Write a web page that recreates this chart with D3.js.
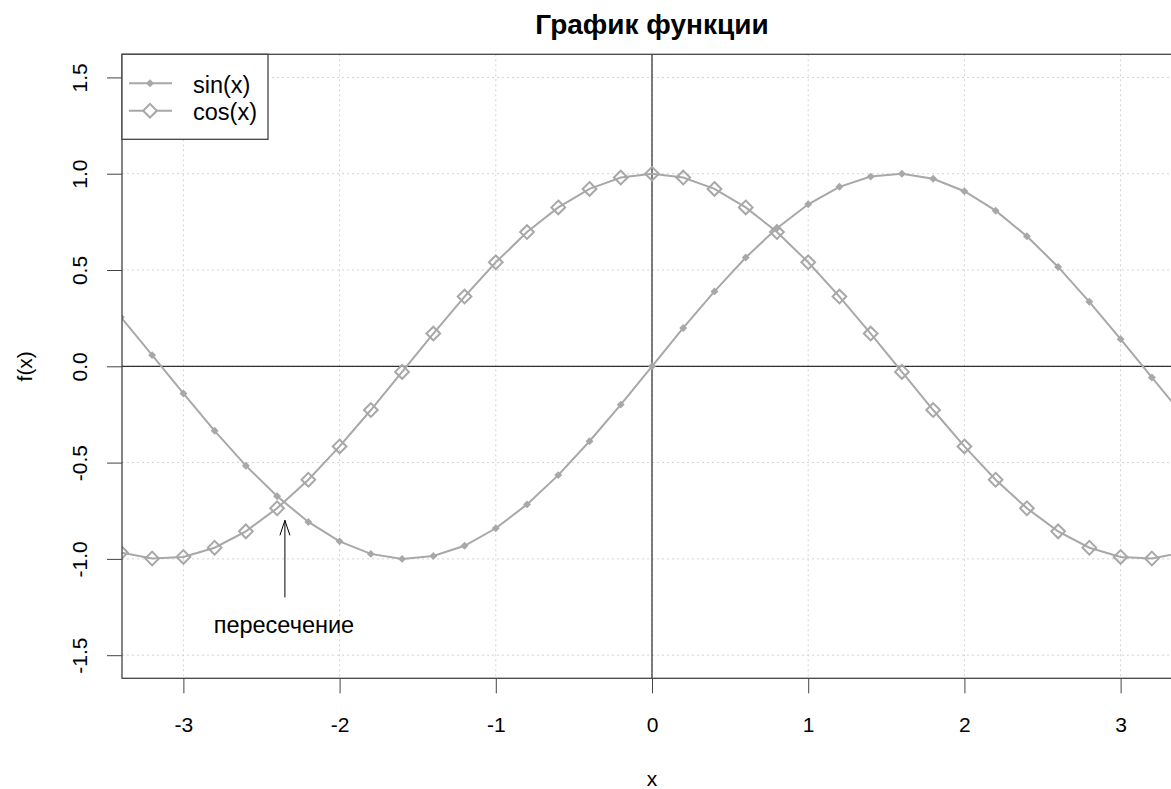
<!DOCTYPE html>
<html>
<head>
<meta charset="utf-8">
<script src="https://cdn.jsdelivr.net/npm/d3@7"></script>
<style>
  body { margin: 0; background: #fff; }
  svg { display: block; }
  svg text { font-family: "Liberation Sans", Arial, sans-serif; }
</style>
</head>
<body>
<script>
// x grid of the points, step 0.2
const xs = [-3.4,-3.2,-3.0,-2.8,-2.6,-2.4,-2.2,-2.0,-1.8,-1.6,-1.4,-1.2,-1.0,-0.8,-0.6,-0.4,-0.2,0,
            0.2,0.4,0.6,0.8,1.0,1.2,1.4,1.6,1.8,2.0,2.2,2.4,2.6,2.8,3.0,3.2,3.4];
const sinVals = [0.255,0.058,-0.141,-0.335,-0.516,-0.675,-0.808,-0.909,-0.974,-1.000,-0.985,-0.932,-0.841,-0.717,-0.565,-0.389,-0.199,0,
                 0.199,0.389,0.565,0.717,0.841,0.932,0.985,1.000,0.974,0.909,0.808,0.675,0.516,0.335,0.141,-0.058,-0.255];
const cosVals = [-0.967,-0.998,-0.990,-0.942,-0.857,-0.737,-0.589,-0.416,-0.227,-0.029,0.170,0.362,0.540,0.697,0.825,0.921,0.980,1.000,
                 0.980,0.921,0.825,0.697,0.540,0.362,0.170,-0.029,-0.227,-0.416,-0.589,-0.737,-0.857,-0.942,-0.990,-0.998,-0.967];
const xTicks = [-3,-2,-1,0,1,2,3];
const yTicks = [-1.5,-1.0,-0.5,0.0,0.5,1.0,1.5];
const legendLabels = ["sin(x)", "cos(x)"];
const note = {x: -2.35, yFrom: -1.2, yTo: -0.8, yText: -1.35, text: "пересечение"};

const w = 1171, h = 789;
const pLeft = 122, pRight = 1182, pTop = 54.3, pBottom = 678.3;
const col = "#a8a8a8";

const svg = d3.select("body").append("svg").attr("width", w).attr("height", h);

const x = d3.scaleLinear().domain([-3.393, 3.393]).range([pLeft, pRight]);
const y = d3.scaleLinear().domain([-1.62, 1.62]).range([pBottom, pTop]);

svg.append("defs").append("clipPath").attr("id", "clip")
  .append("rect").attr("x", pLeft).attr("y", pTop).attr("width", pRight - pLeft).attr("height", pBottom - pTop);

// grid
const grid = svg.append("g").attr("stroke", "#d3d3d3").attr("stroke-dasharray", "2,3").attr("stroke-width", 1);
grid.selectAll(".gx").data(xTicks).enter().append("line")
  .attr("x1", d => x(d)).attr("x2", d => x(d)).attr("y1", pTop).attr("y2", pBottom);
grid.selectAll(".gy").data(yTicks).enter().append("line")
  .attr("x1", pLeft).attr("x2", pRight).attr("y1", d => y(d)).attr("y2", d => y(d));

// zero lines
svg.append("line").attr("x1", x(0)).attr("x2", x(0)).attr("y1", pTop).attr("y2", pBottom).attr("stroke", "#000");
svg.append("line").attr("x1", pLeft).attr("x2", pRight).attr("y1", y(0)).attr("y2", y(0)).attr("stroke", "#000");

const plot = svg.append("g").attr("clip-path", "url(#clip)");
const line = d3.line().x(d => x(d[0])).y(d => y(d[1]));
const sinData = xs.map((v, i) => [v, sinVals[i]]);
const cosData = xs.map((v, i) => [v, cosVals[i]]);

plot.append("path").datum(sinData).attr("d", line).attr("fill", "none").attr("stroke", col).attr("stroke-width", 2);
plot.append("path").datum(cosData).attr("d", line).attr("fill", "none").attr("stroke", col).attr("stroke-width", 2);

const smallDiamond = d3.symbol().type(d3.symbolDiamond2).size(40);
const bigDiamond = d3.symbol().type(d3.symbolDiamond2).size(120);

plot.selectAll(".sinpt").data(sinData).enter().append("path")
  .attr("transform", d => `translate(${x(d[0])},${y(d[1])})`)
  .attr("d", smallDiamond).attr("fill", col);
plot.selectAll(".cospt").data(cosData).enter().append("path")
  .attr("transform", d => `translate(${x(d[0])},${y(d[1])})`)
  .attr("d", bigDiamond).attr("fill", "none").attr("stroke", col).attr("stroke-width", 2);

// box
svg.append("rect").attr("x", pLeft).attr("y", pTop).attr("width", pRight - pLeft).attr("height", pBottom - pTop)
  .attr("fill", "none").attr("stroke", "#444").attr("stroke-width", 1.3);

// axes
const xAxis = d3.axisBottom(x).tickValues(xTicks).tickSize(15).tickFormat(d => String(d));
const gx = svg.append("g").attr("transform", `translate(0,${pBottom})`).call(xAxis);
gx.select(".domain").remove();
gx.selectAll("line").attr("stroke", "#444");
gx.selectAll("text").attr("font-size", 21).attr("fill", "#000")
  .attr("font-family", "Liberation Sans, Arial, sans-serif")
  .attr("y", 53.5).attr("dy", null);

const yAxis = d3.axisLeft(y).tickValues(yTicks).tickSize(15).tickFormat(d => d.toFixed(1));
const gy = svg.append("g").attr("transform", `translate(${pLeft},0)`).call(yAxis);
gy.select(".domain").remove();
gy.selectAll("line").attr("stroke", "#444");
gy.selectAll("text").attr("font-size", 21).attr("fill", "#000")
  .attr("font-family", "Liberation Sans, Arial, sans-serif")
  .attr("x", null).attr("dy", null)
  .attr("transform", "translate(-35,0) rotate(-90)")
  .attr("text-anchor", "middle");

// titles
svg.append("text").attr("x", (pLeft + pRight) / 2).attr("y", 34).attr("text-anchor", "middle")
  .attr("font-size", 28).attr("font-weight", "bold").text("График функции");
svg.append("text").attr("x", (pLeft + pRight) / 2).attr("y", 786).attr("text-anchor", "middle")
  .attr("font-size", 21).text("x");
svg.append("text").attr("transform", `translate(32,${(pTop + pBottom) / 2}) rotate(-90)`).attr("text-anchor", "middle")
  .attr("font-size", 21).text("f(x)");

// legend
const lg = svg.append("g");
lg.append("rect").attr("x", pLeft).attr("y", pTop).attr("width", 146).attr("height", 85)
  .attr("fill", "#fff").attr("stroke", "#444").attr("stroke-width", 1.3);
const ly = [83.3, 110.7];
[smallDiamond, bigDiamond].forEach((sym, i) => {
  lg.append("line").attr("x1", 129).attr("x2", 172).attr("y1", ly[i]).attr("y2", ly[i])
    .attr("stroke", col).attr("stroke-width", 2);
  const m = lg.append("path").attr("transform", `translate(150,${ly[i]})`).attr("d", sym);
  if (i === 0) m.attr("fill", col);
  else m.attr("fill", "#fff").attr("stroke", col).attr("stroke-width", 2);
  lg.append("text").attr("x", 193).attr("y", ly[i] + 9.4).attr("font-size", 23.5).text(legendLabels[i]);
});

// annotation arrow
const ax = x(note.x), ay0 = y(note.yFrom), ay1 = y(note.yTo);
const ann = svg.append("g").attr("stroke", "#000").attr("stroke-width", 1).attr("fill", "none");
ann.append("line").attr("x1", ax).attr("x2", ax).attr("y1", ay0).attr("y2", ay1);
ann.append("path").attr("d", `M${ax - 5},${ay1 + 15} L${ax},${ay1} L${ax + 5},${ay1 + 15}`);
svg.append("text").attr("x", ax - 1).attr("y", y(note.yText) + 7).attr("text-anchor", "middle")
  .attr("font-size", 23.5).text(note.text);
</script>
</body>
</html>
